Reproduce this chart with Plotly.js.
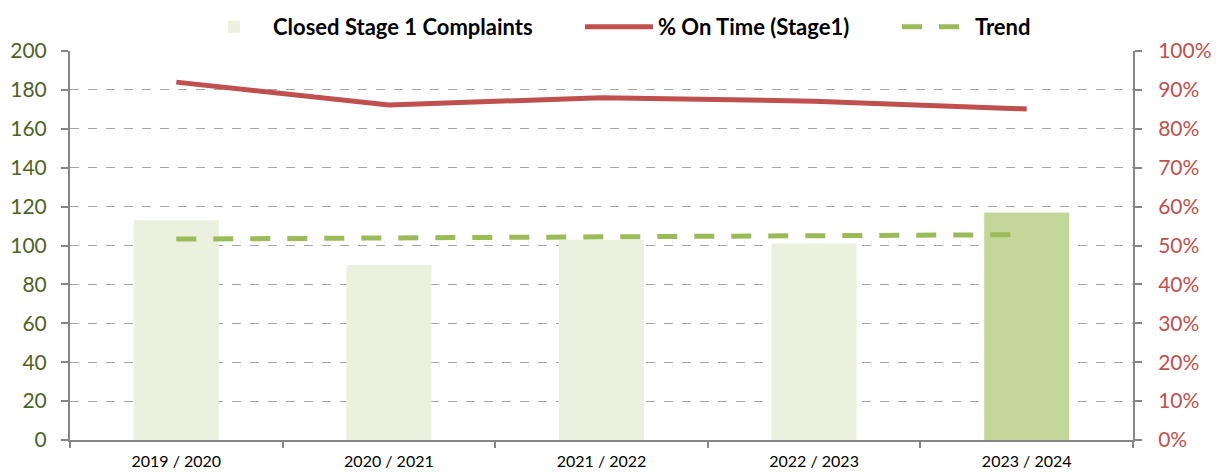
<!DOCTYPE html>
<html>
<head>
<meta charset="utf-8">
<script src="https://cdn.plot.ly/plotly-3.0.1.min.js"></script>
<style>
  html, body { margin: 0; padding: 0; background: white; }
  #chart { width: 1217px; height: 472px; }
</style>
</head>
<body>
<div id="chart"></div>
<script>
// Data
var years = ['2019 / 2020', '2020 / 2021', '2021 / 2022', '2022 / 2023', '2023 / 2024'];
var closedComplaints = [113, 90, 103, 101, 117];
var onTimePct = [0.92, 0.861, 0.88, 0.871, 0.851];
var trendValues = [103.3, 103.9, 104.4, 105.0, 105.6];
var barColors = ['#ebf1de', '#ebf1de', '#ebf1de', '#ebf1de', '#c4d79b'];

// Traces
var bars = {
  x: years,
  y: closedComplaints,
  type: 'bar',
  name: 'Closed Stage 1 Complaints',
  marker: { color: barColors },
  yaxis: 'y',
  legend: 'legend'
};

var onTime = {
  x: years,
  y: onTimePct,
  type: 'scatter',
  mode: 'lines',
  name: '% On Time (Stage1)',
  line: { color: '#c0504d', width: 5 },
  yaxis: 'y2',
  legend: 'legend2'
};

var trend = {
  x: years,
  y: trendValues,
  type: 'scatter',
  mode: 'lines',
  name: 'Trend',
  line: { color: '#9bbb59', width: 5, dash: '20px,17px' },
  yaxis: 'y',
  legend: 'legend3'
};

var data = [bars, onTime, trend];

// one legend box per entry so the spacing can follow the original
function legendAt(xPos) {
  return {
    xref: 'container', yref: 'container',
    x: xPos, xanchor: 'left',
    y: 0.943, yanchor: 'middle',
    font: { size: 22, color: '#000', weight: 'bold' },
    itemwidth: 68
  };
}

var layout = {
  width: 1217,
  height: 472,
  margin: { l: 70, r: 84, t: 51, b: 32, autoexpand: false },
  paper_bgcolor: 'white',
  plot_bgcolor: 'white',
  font: { family: 'Lato, "Open Sans", sans-serif', color: '#000' },
  bargap: 0.6,
  showlegend: true,
  legend: legendAt(195 / 1217),
  legend2: legendAt(580 / 1217),
  legend3: legendAt(897 / 1217),
  xaxis: {
    type: 'category',
    range: [-0.5, 4.5],
    showline: true,
    linecolor: '#868686',
    linewidth: 2,
    ticks: 'outside',
    tickson: 'boundaries',
    ticklen: 6,
    tickcolor: '#868686',
    tickwidth: 2,
    showgrid: false,
    ticklabelstandoff: 6,
    tickfont: { size: 16, color: '#000' }
  },
  yaxis: {
    range: [0, 200],
    dtick: 20,
    showline: true,
    linecolor: '#868686',
    linewidth: 2,
    ticks: 'outside',
    ticklen: 7,
    tickcolor: '#868686',
    tickwidth: 2,
    showgrid: true,
    gridcolor: '#a6a6a6',
    gridwidth: 1,
    griddash: 'dash',
    zeroline: false,
    ticklabelstandoff: 10,
    tickfont: { size: 21, color: '#4f6228' }
  },
  yaxis2: {
    overlaying: 'y',
    side: 'right',
    range: [0, 1],
    dtick: 0.1,
    tickformat: '.0%',
    showline: true,
    linecolor: '#868686',
    linewidth: 2,
    ticks: 'outside',
    ticklen: 7,
    tickcolor: '#868686',
    tickwidth: 2,
    showgrid: false,
    zeroline: false,
    ticklabelstandoff: 12,
    tickfont: { size: 21, color: '#c0504d' }
  }
};

Plotly.newPlot('chart', data, layout, { staticPlot: true });
</script>
</body>
</html>
